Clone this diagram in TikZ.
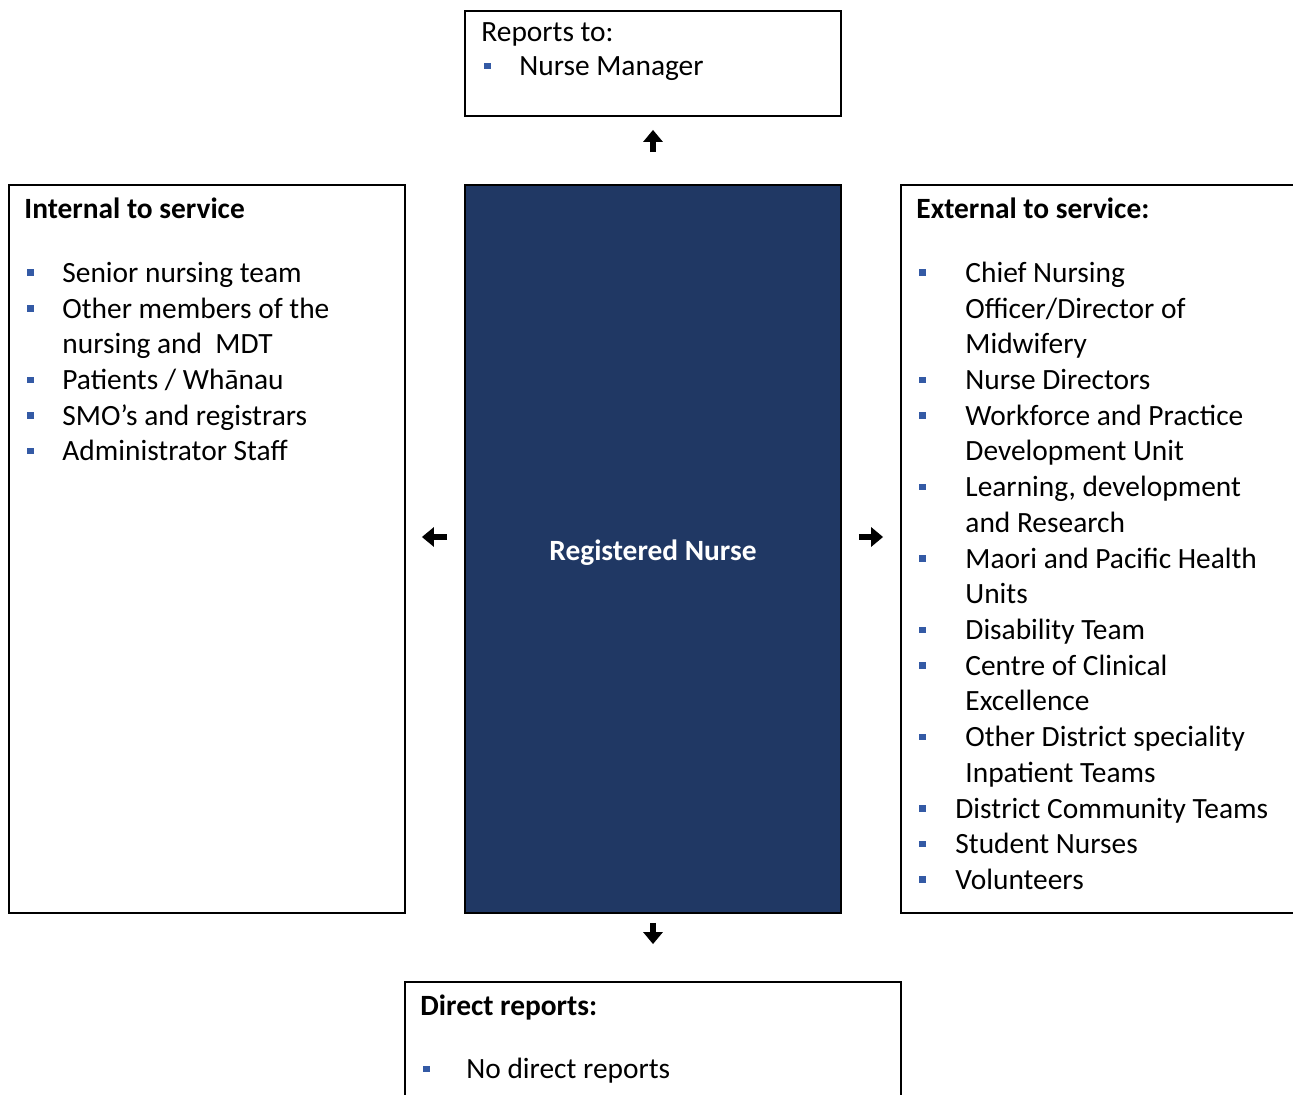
\documentclass[tikz,border=0pt]{standalone}
\usepackage{fontspec}
\setmainfont{Carlito}
\usetikzlibrary{arrows.meta}
\definecolor{navy}{RGB}{32,56,100}
\definecolor{bulblue}{RGB}{52,90,165}
\tikzset{
  box/.style={draw=black,line width=0.9pt,inner sep=0pt},
  item/.style={anchor=base west,inner sep=0pt,font=\fontsize{14.7}{17.85}\selectfont},
  head/.style={item,font=\fontsize{14.7}{17.85}\selectfont\bfseries},
  arr/.style={line width=2.6pt,-{Triangle[width=9.5pt,length=6pt]}}
}
\newcommand{\bulsq}[2]{\fill[bulblue] (#1,{#2-13}) rectangle ++(7,6.5);}
\begin{document}
\begin{tikzpicture}[x=0.5pt,y=-0.5pt]
  \useasboundingbox (0,0) rectangle (1293,1095);
  \clip (0,0) rectangle (1293,1095);
  % boxes
  \node[box,minimum width=188pt,minimum height=52.5pt] (top) at (653,63.5) {};
  \node[box,fill=navy,minimum width=188pt,minimum height=364pt] (rn) at (653,549) {};
  \node[box,minimum width=198pt,minimum height=364pt] (int) at (207,549) {};
  \node[box,minimum width=199.5pt,minimum height=364pt] (ext) at (1100.5,549) {};
  \node[box,minimum width=248pt,minimum height=64pt] (dir) at (653,1046) {};
  % centre text
  \node[font=\fontsize{14.7}{17.85}\selectfont\bfseries,text=white] (rn-label) at (653,553) {Registered Nurse};
  % reports to
  \node[item] (top-title) at (481,42) {Reports to:};
  \node[item] (top-1) at (519,76) {Nurse Manager};
  \bulsq{484}{76}
  % internal
  \node[head] (int-title) at (24,219) {Internal to service};
  \foreach \k/\b/\t in {0/1/Senior nursing team, 1/1/Other members of the,
      2/0/{nursing and\ \ MDT}, 3/1/{Patients / Whānau}, 4/1/SMO’s and registrars,
      5/1/Administrator Staff}{
    \node[item] (int-\k) at (62,{282.5+35.7*\k}) {\t};
    \ifnum\b=1 \bulsq{27}{282.5+35.7*\k} \fi
  }
  % external
  \node[head] (ext-title) at (916,219) {External to service:};
  \foreach \k/\x/\b/\t in {0/965/1/Chief Nursing, 1/965/0/{Officer/Director of},
      2/965/0/Midwifery, 3/965/1/Nurse Directors, 4/965/1/Workforce and Practice,
      5/965/0/Development Unit, 6/965/1/{Learning, development}, 7/965/0/and Research,
      8/965/1/Maori and Pacific Health, 9/965/0/Units, 10/965/1/Disability Team,
      11/965/1/Centre of Clinical, 12/965/0/Excellence,
      13/965/1/Other District speciality, 14/965/0/Inpatient Teams,
      15/955/1/District Community Teams, 16/955/1/Student Nurses, 17/955/1/Volunteers}{
    \node[item] (ext-\k) at (\x,{282.5+35.7*\k}) {\t};
    \ifnum\b=1 \bulsq{919}{282.5+35.7*\k} \fi
  }
  % direct reports
  \node[head] (dir-title) at (420,1015) {Direct reports:};
  \node[item] (dir-1) at (466,1078.5) {No direct reports};
  \bulsq{423}{1078.5}
  % arrows
  \draw[arr,shorten <=16pt,shorten >=6.5pt] (rn.north) -- (top.south);
  \draw[arr,shorten <=4.5pt,shorten >=18.5pt] (rn.south) -- (dir.north);
  \draw[arr,shorten <=8.5pt,shorten >=8pt] ([yshift=6pt]rn.west) -- ([yshift=6pt]int.east);
  \draw[arr,shorten <=8.5pt,shorten >=8.5pt] ([yshift=6pt]rn.east) -- ([yshift=6pt]ext.west);
\end{tikzpicture}
\end{document}
